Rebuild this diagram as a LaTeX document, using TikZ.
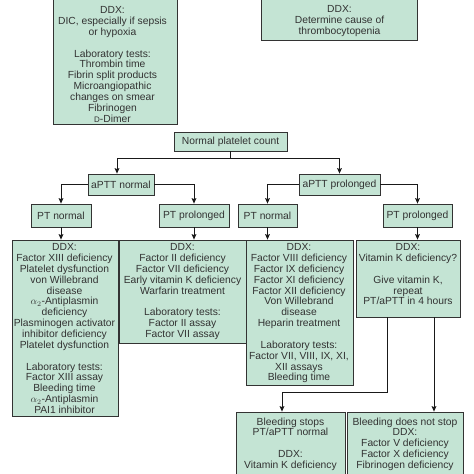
\documentclass[tikz,border=0pt]{standalone}
\usepackage{fontspec}
\setmainfont{Liberation Sans}
\usetikzlibrary{arrows.meta}
\definecolor{boxgreen}{RGB}{196,228,212}
\definecolor{txtgray}{RGB}{50,50,50}
\begin{document}
\begin{tikzpicture}[x=1pt,y=1pt,
  box/.style={draw=black!80, fill=boxgreen, line width=0.8pt, inner sep=0pt,
    text=txtgray, font=\fontsize{10.3}{10.85}\selectfont},
  bx/.style n args={2}{box, minimum width=#1, minimum height=#2},
  txt/.style={align=center, inner sep=0pt, anchor=north, text=txtgray,
    font=\fontsize{10.3}{10.85}\selectfont},
  ln/.style={line width=0.8pt, draw=black!90},
  arr/.style={ln, -{Stealth[length=5.5pt,width=4.8pt,inset=1pt]}}]
\useasboundingbox (0,0) rectangle (474,-474);
\clip (0,0) rectangle (474,-474);

% top boxes
\node[bx={124pt}{134pt}] (T1) at (115,-57) {};
\node[txt] (tT1) at (112.5,-6.4) {DDX:\\DIC, especially if sepsis\\or hypoxia\\[10.85pt]Laboratory tests:\\Thrombin time\\Fibrin split products\\Microangiopathic\\changes on smear\\Fibrinogen\\{\fontsize{8}{8}\selectfont D}-Dimer};
\node[bx={156pt}{50pt}] (T2) at (339,-15) {};
\node[txt] (tT2) at (339.5,-5.4) {DDX:\\Determine cause of\\thrombocytopenia};

% tree
\node[bx={113pt}{19pt}] (N) at (230.5,-141.5) {Normal platelet count};
\node[bx={66pt}{21pt}] (aN) at (121,-184.5) {aPTT normal};
\node[bx={81pt}{21pt}] (aP) at (339.5,-184.5) {aPTT prolonged};
\node[bx={60pt}{23pt}] (P1) at (61,-215.5) {PT normal};
\node[bx={70pt}{23pt}] (P2) at (194,-215.5) {PT prolonged};
\node[bx={59pt}{23pt}] (P3) at (267.5,-215.5) {PT normal};
\node[bx={69pt}{23pt}] (P4) at (417.5,-215.5) {PT prolonged};

% DDX boxes
\node[bx={106pt}{176pt}] (A) at (65,-328) {};
\node[txt] (tA) at (64.5,-243.4) {DDX:\\Factor XIII deficiency\\Platelet dysfunction\\von Willebrand\\disease\\$\alpha_2$-Antiplasmin\\deficiency\\Plasminogen activator\\inhibitor deficiency\\Platelet dysfunction\\[10.85pt]Laboratory tests:\\Factor XIII assay\\Bleeding time\\$\alpha_2$-Antiplasmin\\PAI1 inhibitor};
\node[bx={127pt}{103pt}] (B) at (182.5,-291.5) {};
\node[txt] (tB) at (182.5,-243.4) {DDX:\\Factor II deficiency\\Factor VII deficiency\\Early vitamin K deficiency\\Warfarin treatment\\[10.85pt]Laboratory tests:\\Factor II assay\\Factor VII assay};
\node[bx={107pt}{145pt}] (C) at (299.5,-312.5) {};
\node[txt] (tC) at (299,-243.4) {DDX:\\Factor VIII deficiency\\Factor IX deficiency\\Factor XI deficiency\\Factor XII deficiency\\Von Willebrand\\disease\\Heparin treatment\\[10.85pt]Laboratory tests:\\Factor VII, VIII, IX, XI,\\XII assays\\Bleeding time};
\node[bx={104pt}{77pt}] (D) at (408,-278.5) {};
\node[txt] (tD) at (408,-243.4) {DDX:\\Vitamin K deficiency?\\[10.85pt]Give vitamin K,\\repeat\\PT/aPTT in 4 hours};

% bottom boxes
\node[bx={109pt}{78pt}] (E) at (290.5,-451) {};
\node[txt] (tE) at (290.5,-417.4) {Bleeding stops\\PT/aPTT normal\\[10.85pt]DDX:\\Vitamin K deficiency};
\node[bx={116pt}{78pt}] (F) at (405,-451) {};
\node[txt] (tF) at (405,-417.4) {Bleeding does not stop\\DDX:\\Factor V deficiency\\Factor X deficiency\\Fibrinogen deficiency};

% connectors
\coordinate (jN) at (230.5,-158);
\draw[ln] (N.south) -- (jN);
\draw[arr] (jN) -| ([xshift=-4pt]aN.north);
\draw[arr] (jN) -| (aP.north);
\draw[arr] (aN.west) -| (P1.north);
\draw[arr] (aN.east) -| (P2.north);
\draw[arr] (aP.west) -| (P3.north);
\draw[arr] (aP.east) -| (P4.north);
\draw[arr] (P1.south) -- (P1.south |- A.north);
\draw[arr] (P2.south) -- (P2.south |- B.north);
\draw[arr] (P3.south) -- (P3.south |- C.north);
\draw[arr] (P4.south) -- (P4.south |- D.north);
\draw[arr] ([xshift=-21pt]D.south) -- ++(0,-75) -| ([xshift=-8.5pt]E.north);
\draw[arr] ([xshift=26pt]D.south) -- ([xshift=26pt]D.south |- F.north);
\end{tikzpicture}
\end{document}
